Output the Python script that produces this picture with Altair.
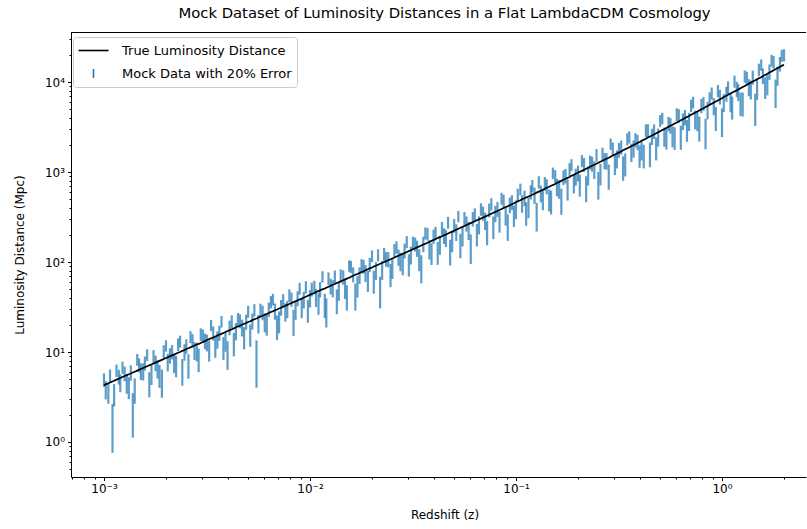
import altair as alt
import pandas as pd

# Mock measurements, first batch: redshift, true distance (Mpc), observed distance (Mpc)
z_a = [
    0.00100, 0.00105, 0.00110, 0.00115, 0.00120, 0.00126, 0.00132, 0.00138, 0.00145, 0.00151,
    0.00158, 0.00166, 0.00174, 0.00182, 0.00191, 0.00200, 0.00209, 0.00219, 0.00229, 0.00240,
    0.00251, 0.00263, 0.00275, 0.00288, 0.00302, 0.00316, 0.00331, 0.00347, 0.00363, 0.00380,
    0.00398, 0.00417, 0.00437, 0.00457, 0.00479, 0.00501, 0.00525, 0.00550, 0.00575, 0.00603,
    0.00631, 0.00661, 0.00692, 0.00724, 0.00759, 0.00794, 0.00832, 0.00871, 0.00912, 0.00955,
    0.0100, 0.0105, 0.0110, 0.0115, 0.0120, 0.0126, 0.0132, 0.0138, 0.0145, 0.0151,
    0.0158, 0.0166, 0.0174, 0.0182, 0.0191, 0.0200, 0.0209, 0.0219, 0.0229, 0.0240,
    0.0251, 0.0263, 0.0275, 0.0288, 0.0302, 0.0316, 0.0331, 0.0347, 0.0363, 0.0380,
    0.0398, 0.0417, 0.0437, 0.0457, 0.0479, 0.0501, 0.0525, 0.0550, 0.0575, 0.0603,
    0.0631, 0.0661, 0.0692, 0.0724, 0.0759, 0.0794, 0.0832, 0.0871, 0.0912, 0.0955,
    0.100, 0.105, 0.110, 0.115, 0.120, 0.126, 0.132, 0.138, 0.145, 0.151,
    0.158, 0.166, 0.174, 0.182, 0.191, 0.200, 0.209, 0.219, 0.229, 0.240,
    0.251, 0.263, 0.275, 0.288, 0.302, 0.316, 0.331, 0.347, 0.363, 0.380,
    0.398, 0.417, 0.437, 0.457, 0.479, 0.501, 0.525, 0.550, 0.575, 0.603,
    0.631, 0.661, 0.692, 0.724, 0.759, 0.794, 0.832, 0.871, 0.912, 0.955,
    1.00, 1.05, 1.10, 1.15, 1.20, 1.26, 1.32, 1.38, 1.45, 1.51,
    1.58, 1.66, 1.74, 1.82, 1.91, 2.00,
]
d_true_a = [
    4.28, 4.50, 4.71, 4.93, 5.14, 5.40, 5.65, 5.91, 6.21, 6.47,
    6.77, 7.11, 7.45, 7.80, 8.18, 8.57, 8.95, 9.38, 9.81, 10.3,
    10.8, 11.3, 11.8, 12.3, 12.9, 13.6, 14.2, 14.9, 15.6, 16.3,
    17.1, 17.9, 18.8, 19.6, 20.6, 21.5, 22.6, 23.6, 24.7, 25.9,
    27.1, 28.4, 29.7, 31.1, 32.6, 34.1, 35.8, 37.5, 39.2, 41.2,
    43.2, 45.3, 47.5, 49.7, 51.9, 54.5, 57.1, 59.7, 62.8, 65.4,
    68.5, 72.0, 75.5, 79.0, 83.0, 87.0, 91.0, 95.4, 99.8, 104.7,
    109.6, 114.9, 120.3, 126.1, 132.3, 138.6, 145.4, 152.6, 159.9, 167.6,
    175.7, 184.4, 193.5, 202.6, 212.8, 222.7, 234.0, 245.6, 257.3, 270.3,
    283.5, 297.6, 311.9, 327.0, 343.7, 360.4, 378.6, 397.5, 417.3, 438.3,
    460.2, 484.9, 509.6, 534.6, 559.7, 589.9, 620.4, 651.1, 687.2, 718.3,
    754.9, 797.1, 839.5, 882.3, 930.9, 980.0, 1029.5, 1085, 1141, 1203,
    1266, 1335, 1405, 1481, 1565, 1649, 1740, 1838, 1938, 2045,
    2159, 2282, 2412, 2544, 2691, 2840, 3004, 3178, 3353, 3552,
    3753, 3972, 4201, 4440, 4704, 4972, 5267, 5573, 5898, 6243,
    6609, 7020, 7436, 7857, 8282, 8797, 9318, 9845, 10465, 11002,
    11635, 12365, 13102, 13847, 14691, 15544,
]
d_obs_a = [
    4.93, 3.56, 1.70, 6.27, 4.60, 5.81, 4.12, 2.30, 8.27, 6.19,
    7.58, 4.55, 9.01, 6.63, 4.74, 11.8, 9.22, 7.69, 12.2, 6.28,
    11.7, 14.8, 10.5, 8.43, 15.2, 12.9, 19.9, 11.6, 16.4, 11.4,
    9.75, 22.0, 17.2, 22.3, 14.8, 28.3, 22.3, 8.73, 29.5, 21.7,
    30.0, 38.6, 19.5, 31.6, 28.3, 42.8, 22.2, 39.8, 31.6, 52.9,
    39.9, 52.8, 35.4, 69.1, 29.1, 54.5, 69.1, 48.9, 68.5, 41.9,
    89.1, 43.2, 72.1, 89.7, 63.1, 117, 81.4, 49.6, 123, 108,
    86.7, 147, 103, 135, 95.3, 163, 143, 88.5, 210, 140,
    194, 130, 239, 187, 134, 256, 323, 198, 269, 149,
    338, 262, 350, 219, 442, 349, 288, 481, 255, 465,
    391, 646, 518, 414, 703, 336, 584, 748, 502, 977,
    688, 494, 915, 1081, 763, 980, 1338, 679, 1296, 1077,
    747, 1596, 1342, 2059, 1237, 1772, 1148, 2335, 1677, 2291,
    1544, 1552, 2919, 2507, 1884, 3734, 2509, 3465, 2549, 4404,
    2515, 4091, 3697, 5972, 3786, 5494, 2844, 6577, 5456, 8022,
    3767, 7442, 6098, 10214, 7786, 5895, 11135, 8369, 5337, 13807,
    11809, 9583, 17425, 7893, 16013, 20052,
]

# Second batch, at redshifts between those of the first
z_b = [
    0.00102, 0.00107, 0.00112, 0.00118, 0.00123, 0.00129, 0.00135, 0.00141, 0.00148, 0.00155,
    0.00162, 0.00170, 0.00178, 0.00186, 0.00195, 0.00204, 0.00214, 0.00224, 0.00234, 0.00246,
    0.00257, 0.00269, 0.00282, 0.00295, 0.00309, 0.00324, 0.00339, 0.00355, 0.00372, 0.00389,
    0.00407, 0.00427, 0.00447, 0.00468, 0.00490, 0.00513, 0.00537, 0.00562, 0.00589, 0.00617,
    0.00646, 0.00676, 0.00708, 0.00741, 0.00776, 0.00813, 0.00851, 0.00891, 0.00933, 0.00977,
    0.0102, 0.0107, 0.0112, 0.0118, 0.0123, 0.0129, 0.0135, 0.0141, 0.0148, 0.0155,
    0.0162, 0.0170, 0.0178, 0.0186, 0.0195, 0.0204, 0.0214, 0.0224, 0.0234, 0.0246,
    0.0257, 0.0269, 0.0282, 0.0295, 0.0309, 0.0324, 0.0339, 0.0355, 0.0372, 0.0389,
    0.0407, 0.0427, 0.0447, 0.0468, 0.0490, 0.0513, 0.0537, 0.0562, 0.0589, 0.0617,
    0.0646, 0.0676, 0.0708, 0.0741, 0.0776, 0.0813, 0.0851, 0.0891, 0.0933, 0.0977,
    0.102, 0.107, 0.112, 0.118, 0.123, 0.129, 0.135, 0.141, 0.148, 0.155,
    0.162, 0.170, 0.178, 0.186, 0.195, 0.204, 0.214, 0.224, 0.234, 0.246,
    0.257, 0.269, 0.282, 0.295, 0.309, 0.324, 0.339, 0.355, 0.372, 0.389,
    0.407, 0.427, 0.447, 0.468, 0.490, 0.513, 0.537, 0.562, 0.589, 0.617,
    0.646, 0.676, 0.708, 0.741, 0.776, 0.813, 0.851, 0.891, 0.933, 0.977,
    1.02, 1.07, 1.12, 1.18, 1.23, 1.29, 1.35, 1.41, 1.48, 1.55,
    1.62, 1.70, 1.78, 1.86, 1.95,
]
d_true_b = [
    4.37, 4.58, 4.80, 5.05, 5.27, 5.53, 5.78, 6.04, 6.34, 6.64,
    6.94, 7.28, 7.62, 7.97, 8.35, 8.74, 9.17, 9.59, 10.0, 10.5,
    11.0, 11.5, 12.1, 12.6, 13.2, 13.9, 14.5, 15.2, 15.9, 16.7,
    17.4, 18.3, 19.2, 20.1, 21.0, 22.0, 23.1, 24.2, 25.3, 26.5,
    27.8, 29.1, 30.4, 31.9, 33.4, 35.0, 36.7, 38.4, 40.3, 42.2,
    44.2, 46.4, 48.6, 50.8, 53.2, 55.8, 58.4, 61.2, 64.1, 66.9,
    70.2, 73.7, 77.2, 81.0, 85.0, 89.0, 93.2, 97.6, 102.2, 107.1,
    112.2, 117.6, 123.2, 129.2, 135.4, 142.0, 149.0, 156.2, 163.7, 171.6,
    180.0, 188.9, 198.0, 207.7, 217.7, 228.3, 239.8, 251.4, 263.8, 276.9,
    290.5, 304.7, 319.4, 335.3, 352.0, 369.5, 388.0, 407.4, 427.8, 449.2,
    472.5, 497.2, 522.1, 547.1, 574.8, 605.1, 635.7, 669.1, 702.7, 736.6,
    776.0, 818.3, 860.9, 906.6, 955.4, 1004.7, 1057, 1113, 1172, 1234,
    1300, 1370, 1443, 1523, 1607, 1694, 1789, 1888, 1991, 2102,
    2220, 2347, 2478, 2617, 2765, 2922, 3091, 3265, 3452, 3652,
    3862, 4086, 4320, 4572, 4838, 5119, 5420, 5735, 6070, 6426,
    6814, 7228, 7646, 8069, 8539, 9057, 9581, 10155, 10733, 11318,
    12000, 12733, 13474, 14269, 15117,
]
d_obs_b = [
    3.85, 5.48, 3.44, 5.35, 6.77, 4.54, 5.96, 3.87, 7.20, 6.15,
    9.34, 5.75, 7.62, 5.58, 10.2, 7.83, 10.1, 7.15, 13.2, 10.1,
    7.26, 13.5, 10.3, 15.8, 13.4, 10.6, 16.3, 13.9, 21.9, 13.4,
    18.8, 12.6, 23.3, 18.9, 21.9, 15.8, 29.4, 20.9, 27.6, 20.5,
    36.2, 28.7, 22.2, 37.6, 30.4, 38.8, 30.1, 51.0, 38.5, 29.6,
    50.2, 40.9, 50.1, 34.0, 66.0, 51.6, 38.0, 70.4, 51.7, 91.1,
    73.4, 55.0, 92.2, 76.2, 94.0, 62.3, 120, 82.9, 109, 73.9,
    136, 114, 95.9, 168, 121, 159, 109, 160, 206, 127,
    210, 158, 198, 276, 172, 217, 158, 308, 228, 303,
    207, 388, 290, 380, 250, 391, 510, 335, 434, 335,
    557, 452, 357, 604, 557, 777, 503, 699, 478, 902,
    659, 879, 654, 1206, 898, 733, 1216, 930, 1243, 1549,
    969, 1349, 924, 1820, 1414, 1898, 1252, 2455, 1841, 2165,
    1787, 2911, 1623, 2853, 2474, 3974, 2395, 3315, 2451, 4255,
    3688, 2984, 5487, 3887, 3145, 5811, 4933, 7541, 4068, 6908,
    5997, 8746, 5353, 8432, 5892, 11639, 8863, 11373, 8479, 15563,
    8880, 13116, 16708, 11914, 19803,
]

ERROR_FRACTION = 0.20  # 20% error on each mock distance

x_decades = [0.001, 0.01, 0.1, 1.0]
x_minor = [0.0007, 0.0008, 0.0009,
           0.002, 0.003, 0.004, 0.005, 0.006, 0.007, 0.008, 0.009,
           0.02, 0.03, 0.04, 0.05, 0.06, 0.07, 0.08, 0.09,
           0.2, 0.3, 0.4, 0.5, 0.6, 0.7, 0.8, 0.9, 2.0]
y_decades = [1.0, 10.0, 100.0, 1000.0, 10000.0]
y_minor = [0.5, 0.6, 0.7, 0.8, 0.9,
           2, 3, 4, 5, 6, 7, 8, 9,
           20, 30, 40, 50, 60, 70, 80, 90,
           200, 300, 400, 500, 600, 700, 800, 900,
           2000, 3000, 4000, 5000, 6000, 7000, 8000, 9000,
           20000, 30000]

LINE_LABEL = "True Luminosity Distance"
BAR_LABEL = "Mock Data with 20% Error"
BLUE = "#1f77b4"
FONT = "DejaVu Sans"

W, H = 735, 445          # visible plot area; the full frame runs past the right edge
FRAME_CENTER = 373.5     # horizontal centre of the full frame, from the left spine
X_DOMAIN = [6.917e-4, 2.557]
Y_DOMAIN = [0.4084, 35950]

df = pd.concat([
    pd.DataFrame({"z": z_a, "d_true": d_true_a, "d_obs": d_obs_a}),
    pd.DataFrame({"z": z_b, "d_true": d_true_b, "d_obs": d_obs_b}),
]).sort_values("z").reset_index(drop=True)
df["sigma"] = ERROR_FRACTION * df["d_true"]
df["lo"] = df["d_obs"] - df["sigma"]
df["hi"] = df["d_obs"] + df["sigma"]

x_scale = alt.Scale(type="log", domain=X_DOMAIN, nice=False)
y_scale = alt.Scale(type="log", domain=Y_DOMAIN, nice=False)

x_labels = ("{'-3':'10⁻³','-2':'10⁻²','-1':'10⁻¹','0':'10⁰'}"
            "['' + round(log(datum.value)/LN10)]")
y_labels = ("{'0':'10⁰','1':'10¹','2':'10²','3':'10³','4':'10⁴'}"
            "['' + round(log(datum.value)/LN10)]")

x_axis = alt.Axis(values=x_decades, labelExpr=x_labels, title="Redshift (z)",
                  tickSize=3.5, labelPadding=3, titlePadding=15, titleX=FRAME_CENTER)
y_axis = alt.Axis(values=y_decades, labelExpr=y_labels,
                  title="Luminosity Distance (Mpc)",
                  tickSize=3.5, labelPadding=3, titlePadding=18)

base = alt.Chart(df)

bars = base.mark_rule(color=BLUE, opacity=0.72, strokeWidth=2.2).encode(
    x=alt.X("z:Q", scale=x_scale, axis=x_axis),
    y=alt.Y("lo:Q", scale=y_scale, axis=y_axis),
    y2="hi:Q",
)

line = base.mark_line(color="black", strokeWidth=1.7).encode(
    x=alt.X("z:Q", scale=x_scale, axis=None),
    y=alt.Y("d_true:Q", scale=y_scale, axis=None),
)

# minor ticks on both axes
minor = base.mark_point(opacity=0).encode(
    x=alt.X("z:Q", scale=x_scale,
            axis=alt.Axis(values=x_minor, labels=False, domain=False, tickSize=2,
                          title=None, orient="bottom")),
    y=alt.Y("d_true:Q", scale=y_scale,
            axis=alt.Axis(values=y_minor, labels=False, domain=False, tickSize=2,
                          title=None, orient="left")),
)

# legend entries
leg_df = pd.DataFrame({"series": [LINE_LABEL, BAR_LABEL],
                       "z": [0.01, 0.01], "d": [43.2, 43.2]})
legend = alt.Chart(leg_df).mark_point(opacity=0, filled=False).encode(
    x=alt.X("z:Q", scale=x_scale, axis=None),
    y=alt.Y("d:Q", scale=y_scale, axis=None),
    color=alt.Color("series:N",
                    scale=alt.Scale(domain=[LINE_LABEL, BAR_LABEL], range=["black", BLUE]),
                    legend=alt.Legend(title=None, orient="none", legendX=2, legendY=5,
                                      symbolSize=225, symbolStrokeWidth=1.6,
                                      symbolOffset=7, symbolOpacity=1,
                                      labelFontSize=13, labelFont=FONT, labelLimit=400,
                                      labelColor="black", labelOffset=20, rowPadding=7,
                                      strokeColor="#cccccc", fillColor="white",
                                      padding=5, cornerRadius=3)),
    shape=alt.Shape("series:N",
                    scale=alt.Scale(domain=[LINE_LABEL, BAR_LABEL],
                                    range=["M-2,0L2,0", "M0,-0.6L0,0.6"]),
                    legend=None),
)

top_spine = alt.Chart(df).mark_rule(color="black", strokeWidth=1).encode(
    x=alt.value(0), x2=alt.value(W), y=alt.value(0.5)
)

chart = alt.layer(bars, line, minor, legend, top_spine).resolve_axis(
    x="independent", y="independent"
).properties(
    width=W, height=H,
    title=alt.Title("Mock Dataset of Luminosity Distances in a Flat LambdaCDM Cosmology",
                    font=FONT, fontSize=14.8, fontWeight="normal", color="black",
                    offset=11, dx=6),
    padding={"left": 71, "top": 32, "right": 1, "bottom": 52},
    autosize=alt.AutoSizeParams(type="none"),
).configure_view(stroke=None).configure_axis(
    labelFont=FONT, titleFont=FONT, labelFontSize=12, titleFontSize=12,
    titleFontWeight="normal", labelColor="black", titleColor="black",
    domainColor="black", tickColor="black", grid=False,
)

chart.save("out.html", embed_options={"renderer": "svg", "actions": False})
